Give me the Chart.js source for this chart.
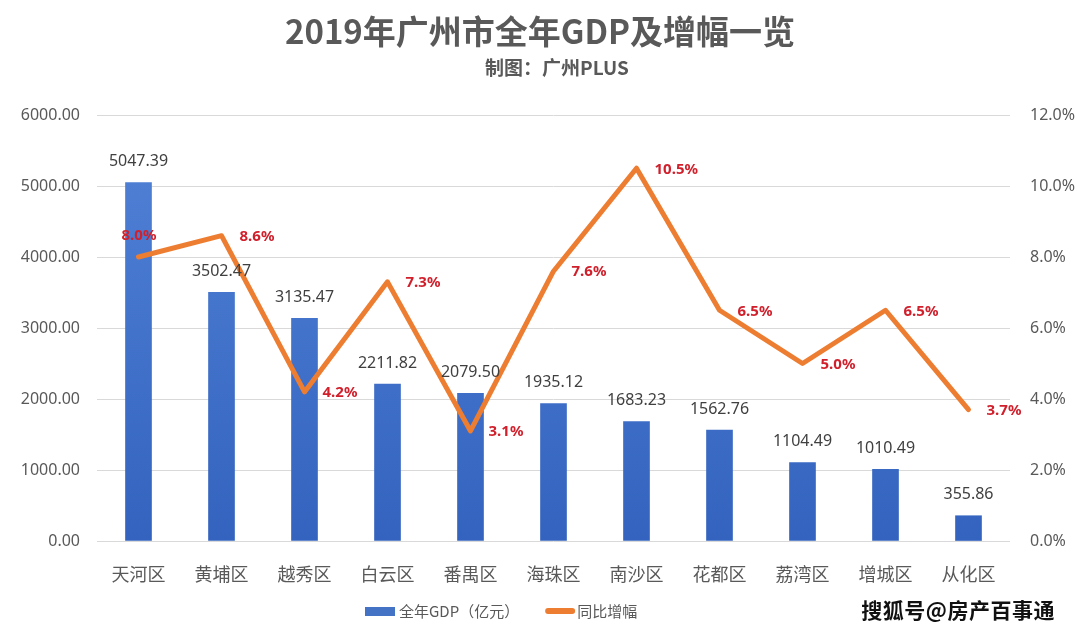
<!DOCTYPE html>
<html lang="zh">
<head>
<meta charset="UTF-8">
<title>2019年广州市全年GDP及增幅一览</title>
<script src="https://cdn.jsdelivr.net/npm/chart.js"></script>
<style>
    html, body { margin: 0; padding: 0; background: #fff; }
    .wrap { position: relative; width: 1080px; height: 633px; }
    .mark {
        position: absolute; right: 25px; top: 594px;
        font-family: 'Noto Sans CJK SC', sans-serif; font-weight: 700;
        font-size: 21px; color: #111; letter-spacing: 0.5px;
    }
</style>
</head>
<body>
<div class="wrap">
    <canvas id="gdpChart" width="1080" height="633"></canvas>
    <div class="mark">搜狐号@房产百事通</div>
</div>
<script>
const districts = ['天河区', '黄埔区', '越秀区', '白云区', '番禺区', '海珠区', '南沙区', '花都区', '荔湾区', '增城区', '从化区'];
const gdp = [5047.39, 3502.47, 3135.47, 2211.82, 2079.50, 1935.12, 1683.23, 1562.76, 1104.49, 1010.49, 355.86];
const growth = [8.0, 8.6, 4.2, 7.3, 3.1, 7.6, 10.5, 6.5, 5.0, 6.5, 3.7];

const title = '2019年广州市全年GDP及增幅一览';
const subtitle = '制图：广州PLUS';
const legendGdp = '全年GDP（亿元）';
const legendGrowth = '同比增幅';

const cjk = "'Noto Sans CJK SC', sans-serif";
const num = "'Noto Sans', 'Open Sans', sans-serif";
const grey = '#595959';

const barGradient = (ctx) => {
    const area = ctx.chart.chartArea;
    if (!area) return '#4472c4';
    const g = ctx.chart.ctx.createLinearGradient(0, area.top, 0, area.bottom);
    g.addColorStop(0, '#5283d8');
    g.addColorStop(1, '#3363be');
    return g;
};

// titles, data labels and legend
const decor = {
    id: 'decor',
    afterDatasetsDraw(chart) {
        const c = chart.ctx;
        c.save();
        // bar values
        c.font = `16px ${num}`;
        c.fillStyle = '#404040';
        c.textAlign = 'center';
        c.textBaseline = 'middle';
        chart.getDatasetMeta(0).data.forEach((bar, i) => {
            c.fillText(gdp[i].toFixed(2), bar.x, bar.y - 21);
        });
        // growth labels
        c.font = `bold 15px ${num}`;
        c.fillStyle = '#d0202c';
        c.textAlign = 'left';
        chart.getDatasetMeta(1).data.forEach((pt, i) => {
            const t = growth[i].toFixed(1) + '%';
            if (i === 0) c.fillText(t, pt.x - 17, pt.y - 21);
            else c.fillText(t, pt.x + 18, pt.y + 1);
        });
        c.restore();
    },
    afterDraw(chart) {
        const c = chart.ctx;
        c.save();
        c.textAlign = 'center';
        c.textBaseline = 'middle';
        c.fillStyle = grey;
        c.font = `bold 33px ${cjk}`;
        c.fillText(title, 540, 31);
        c.font = `bold 19px ${cjk}`;
        c.fillText(subtitle, 557, 68);

        // legend
        c.textAlign = 'left';
        c.font = `15px ${cjk}`;
        const y = 611;
        let x = 365;
        c.fillStyle = '#4472c4';
        c.fillRect(x, y - 4, 30, 9);
        x += 34;
        c.fillStyle = grey;
        c.fillText(legendGdp, x, y);
        x += c.measureText(legendGdp).width + 26;
        c.strokeStyle = '#ed7d31';
        c.lineWidth = 6;
        c.lineCap = 'round';
        c.beginPath();
        c.moveTo(x + 3, y);
        c.lineTo(x + 27, y);
        c.stroke();
        c.fillText(legendGrowth, x + 32, y);
        c.restore();
    }
};

new Chart(document.getElementById('gdpChart'), {
    data: {
        labels: districts,
        datasets: [
            {
                type: 'bar',
                label: legendGdp,
                data: gdp,
                yAxisID: 'y',
                backgroundColor: barGradient,
                barThickness: 26,
                order: 2
            },
            {
                type: 'line',
                label: legendGrowth,
                data: growth,
                yAxisID: 'y2',
                borderColor: '#ed7d31',
                borderWidth: 5,
                borderCapStyle: 'round',
                borderJoinStyle: 'round',
                pointRadius: 0,
                tension: 0,
                order: 1
            }
        ]
    },
    options: {
        responsive: false,
        animation: false,
        layout: { padding: { top: 115, bottom: 47, left: 0, right: 0 } },
        plugins: {
            legend: { display: false },
            tooltip: { enabled: false }
        },
        scales: {
            x: {
                grid: { display: false },
                border: { display: false },
                ticks: { color: grey, font: { family: cjk, size: 18 }, padding: 14 },
                afterFit: (s) => { s.height = 45; }
            },
            y: {
                position: 'left',
                min: 0, max: 6000,
                ticks: {
                    stepSize: 1000, color: grey, padding: 17,
                    font: { family: num, size: 16 },
                    callback: (v) => v.toFixed(2)
                },
                grid: { color: '#d9d9d9', lineWidth: 1, drawTicks: false },
                border: { display: false },
                afterFit: (s) => { s.width = 97; }
            },
            y2: {
                position: 'right',
                min: 0, max: 12,
                ticks: {
                    stepSize: 2, color: grey, padding: 20,
                    font: { family: num, size: 16 },
                    callback: (v) => v.toFixed(1) + '%'
                },
                grid: { drawOnChartArea: false, drawTicks: false },
                border: { display: false },
                afterFit: (s) => { s.width = 70; }
            }
        }
    },
    plugins: [decor]
});
</script>
</body>
</html>
